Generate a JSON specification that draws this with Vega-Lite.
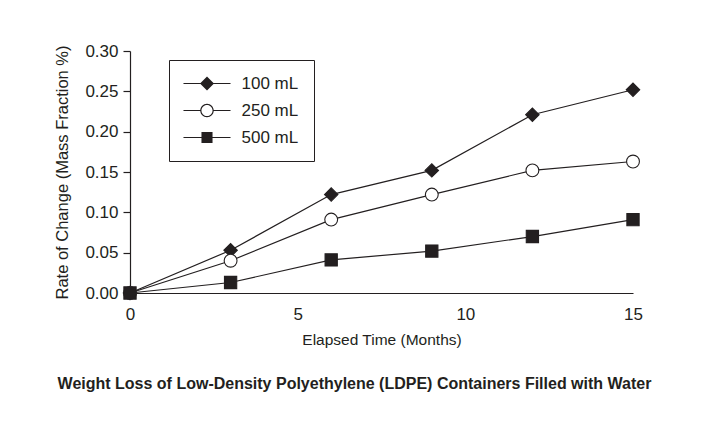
{
  "$schema": "https://vega.github.io/schema/vega-lite/v6.json",
  "width": 503,
  "height": 242,
  "autosize": {"type": "none"},
  "padding": {"left": 130, "top": 51, "right": 76, "bottom": 139},
  "background": "white",
  "title": {
    "text": "Weight Loss of Low-Density Polyethylene (LDPE) Containers Filled with Water",
    "orient": "bottom",
    "anchor": "middle",
    "frame": "group",
    "dx": -27,
    "offset": 28,
    "fontSize": 16,
    "fontWeight": "bold",
    "font": "Liberation Sans",
    "color": "#231f20"
  },
  "data": {
    "values": [
      {"series": "100 mL", "month": 0, "value": 0.0},
      {"series": "100 mL", "month": 3, "value": 0.053},
      {"series": "100 mL", "month": 6, "value": 0.122},
      {"series": "100 mL", "month": 9, "value": 0.152},
      {"series": "100 mL", "month": 12, "value": 0.221},
      {"series": "100 mL", "month": 15, "value": 0.252},
      {"series": "250 mL", "month": 0, "value": 0.0},
      {"series": "250 mL", "month": 3, "value": 0.040},
      {"series": "250 mL", "month": 6, "value": 0.091},
      {"series": "250 mL", "month": 9, "value": 0.122},
      {"series": "250 mL", "month": 12, "value": 0.152},
      {"series": "250 mL", "month": 15, "value": 0.163},
      {"series": "500 mL", "month": 0, "value": 0.0},
      {"series": "500 mL", "month": 3, "value": 0.013},
      {"series": "500 mL", "month": 6, "value": 0.041},
      {"series": "500 mL", "month": 9, "value": 0.052},
      {"series": "500 mL", "month": 12, "value": 0.070},
      {"series": "500 mL", "month": 15, "value": 0.091}
    ]
  },
  "encoding": {
    "x": {
      "field": "month",
      "type": "quantitative",
      "scale": {"domain": [0, 15], "nice": false, "zero": false},
      "axis": {
        "title": "Elapsed Time (Months)",
        "values": [0, 5, 10, 15],
        "format": "d",
        "ticks": false,
        "grid": false,
        "labelPadding": 13,
        "titlePadding": 10,
        "labelFlush": false,
        "titleFontSize": 15.5
      }
    },
    "y": {
      "field": "value",
      "type": "quantitative",
      "scale": {"domain": [0, 0.3], "nice": false},
      "axis": {
        "title": "Rate of Change (Mass Fraction %)",
        "values": [0, 0.05, 0.1, 0.15, 0.2, 0.25, 0.3],
        "format": ".2f",
        "tickSize": 7,
        "grid": false,
        "labelPadding": 5,
        "titlePadding": 14,
        "titleFontSize": 16.5
      }
    }
  },
  "layer": [
    {
      "mark": {"type": "line", "color": "#231f20", "strokeWidth": 1.2},
      "encoding": {"detail": {"field": "series", "type": "nominal"}}
    },
    {
      "mark": {"type": "point", "filled": true, "stroke": "#231f20", "strokeWidth": 1.1, "opacity": 1},
      "encoding": {
        "shape": {
          "field": "series",
          "type": "nominal",
          "scale": {"domain": ["100 mL", "250 mL", "500 mL"], "range": ["diamond", "circle", "square"]},
          "legend": null
        },
        "fill": {
          "field": "series",
          "type": "nominal",
          "scale": {"domain": ["100 mL", "250 mL", "500 mL"], "range": ["#231f20", "white", "#231f20"]},
          "legend": null
        },
        "size": {
          "field": "series",
          "type": "nominal",
          "scale": {"domain": ["100 mL", "250 mL", "500 mL"], "range": [180, 150, 115]},
          "legend": null
        }
      }
    },
    {
      "transform": [{"filter": "datum.month < 0"}],
      "mark": {"type": "point", "filled": true, "opacity": 1, "size": 196},
      "encoding": {
        "shape": {
          "field": "series",
          "type": "nominal",
          "scale": {
            "domain": ["100 mL", "250 mL", "500 mL"],
            "range": [
              "M-3.36,-0.085L3.36,-0.085L3.36,0.085L-3.36,0.085ZM0,-1L1,0L0,1L-1,0Z",
              "M-3.36,-0.085L-0.88,-0.085L-0.88,0.085L-3.36,0.085ZM0.88,-0.085L3.36,-0.085L3.36,0.085L0.88,0.085ZM0.965,0C0.965,0.533,0.533,0.965,0,0.965C-0.533,0.965,-0.965,0.533,-0.965,0C-0.965,-0.533,-0.533,-0.965,0,-0.965C0.533,-0.965,0.965,-0.533,0.965,0ZM0.795,0C0.795,-0.439,0.439,-0.795,0,-0.795C-0.439,-0.795,-0.795,-0.439,-0.795,0C-0.795,0.439,-0.439,0.795,0,0.795C0.439,0.795,0.795,0.439,0.795,0Z",
              "M-3.36,-0.085L3.36,-0.085L3.36,0.085L-3.36,0.085ZM-0.79,-0.79L0.79,-0.79L0.79,0.79L-0.79,0.79Z"
            ]
          },
          "legend": {
            "title": null,
            "orient": "none",
            "legendX": 39,
            "legendY": 9,
            "padding": 15,
            "strokeColor": "#231f20",
            "fillColor": "white",
            "symbolSize": 196,
            "symbolStrokeWidth": 0,
            "symbolOpacity": 1,
            "symbolOffset": 14.5,
            "labelOffset": 26,
            "rowPadding": 9,
            "labelFontSize": 17,
            "labelFont": "Liberation Sans",
            "labelColor": "#231f20"
          }
        },
        "fill": {
          "field": "series",
          "type": "nominal",
          "scale": {"domain": ["100 mL", "250 mL", "500 mL"], "range": ["#231f20", "#231f20", "#231f20"]},
          "legend": {
            "title": null,
            "orient": "none",
            "legendX": 39,
            "legendY": 9,
            "padding": 15,
            "strokeColor": "#231f20",
            "fillColor": "white",
            "symbolSize": 196,
            "symbolStrokeWidth": 0,
            "symbolOpacity": 1,
            "symbolOffset": 14.5,
            "labelOffset": 26,
            "rowPadding": 9,
            "labelFontSize": 17,
            "labelFont": "Liberation Sans",
            "labelColor": "#231f20"
          }
        }
      }
    }
  ],
  "resolve": {
    "scale": {"shape": "independent", "fill": "independent", "size": "independent"},
    "legend": {"shape": "independent", "fill": "independent", "size": "independent"}
  },
  "config": {
    "view": {"stroke": null},
    "font": "Liberation Sans",
    "axis": {
      "domainColor": "#231f20",
      "domainWidth": 1.2,
      "tickColor": "#231f20",
      "tickWidth": 1.2,
      "labelFont": "Liberation Sans",
      "labelFontSize": 17,
      "labelColor": "#231f20",
      "titleFont": "Liberation Sans",
      "titleFontWeight": "normal",
      "titleColor": "#231f20"
    }
  }
}
